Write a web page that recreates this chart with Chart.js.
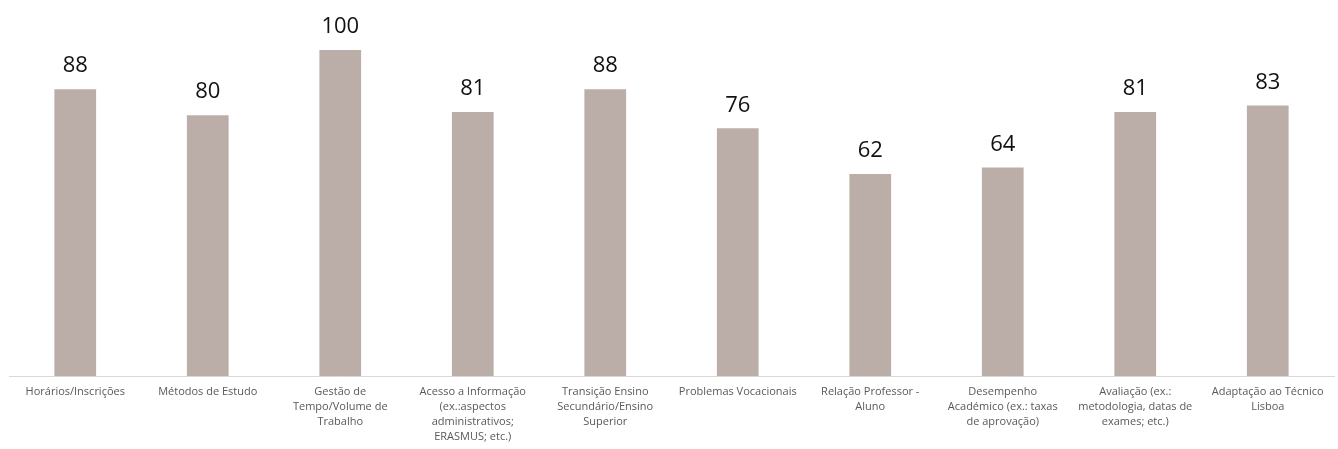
<!DOCTYPE html>
<html lang="pt">
<head>
<meta charset="utf-8">
<script src="https://cdn.jsdelivr.net/npm/chart.js"></script>
<style>
  body { margin: 0; background: #fff; }
  #wrap { width: 1338px; height: 449px; }
</style>
</head>
<body>
<div id="wrap"><canvas id="chart" width="1338" height="449"></canvas></div>
<script>
// categorias (linhas já partidas como no original)
const categories = [
  "Horários/Inscrições",
  "Métodos de Estudo",
  ["Gestão de", "Tempo/Volume de", "Trabalho"],
  ["Acesso a Informação", "(ex.:aspectos", "administrativos;", "ERASMUS; etc.)"],
  ["Transição Ensino", "Secundário/Ensino", "Superior"],
  "Problemas Vocacionais",
  ["Relação Professor -", "Aluno"],
  ["Desempenho", "Académico (ex.: taxas", "de aprovação)"],
  ["Avaliação (ex.:", "metodologia, datas de", "exames; etc.)"],
  ["Adaptação ao Técnico", "Lisboa"]
];
const values = [88, 80, 100, 81, 88, 76, 62, 64, 81, 83];

// etiquetas de valor por cima das barras
const valueLabels = {
  id: 'valueLabels',
  afterDatasetsDraw(chart) {
    const ctx = chart.ctx;
    const meta = chart.getDatasetMeta(0);
    ctx.save();
    ctx.font = '22px "Open Sans", sans-serif';
    ctx.fillStyle = '#111';
    ctx.textAlign = 'center';
    ctx.textBaseline = 'bottom';
    meta.data.forEach((bar, i) => {
      ctx.fillText(values[i], bar.x, bar.y - 12);
    });
    ctx.restore();
  }
};

new Chart(document.getElementById('chart'), {
  type: 'bar',
  data: {
    labels: categories,
    datasets: [{
      data: values,
      backgroundColor: '#bbaea9',
      categoryPercentage: 1,
      barPercentage: 0.315
    }]
  },
  options: {
    responsive: false,
    animation: false,
    layout: { padding: { top: 50, left: 9, right: 4, bottom: 5 } },
    plugins: { legend: { display: false }, tooltip: { enabled: false } },
    scales: {
      y: { display: false, min: 0, max: 100 },
      x: {
        grid: { display: false },
        border: { display: true, color: '#d9d9d9', width: 1 },
        ticks: {
          autoSkip: false,
          maxRotation: 0,
          padding: 0,
          color: '#595959',
          font: { family: '"Open Sans", sans-serif', size: 11, lineHeight: 1.36 }
        }
      }
    }
  },
  plugins: [valueLabels]
});
</script>
</body>
</html>
